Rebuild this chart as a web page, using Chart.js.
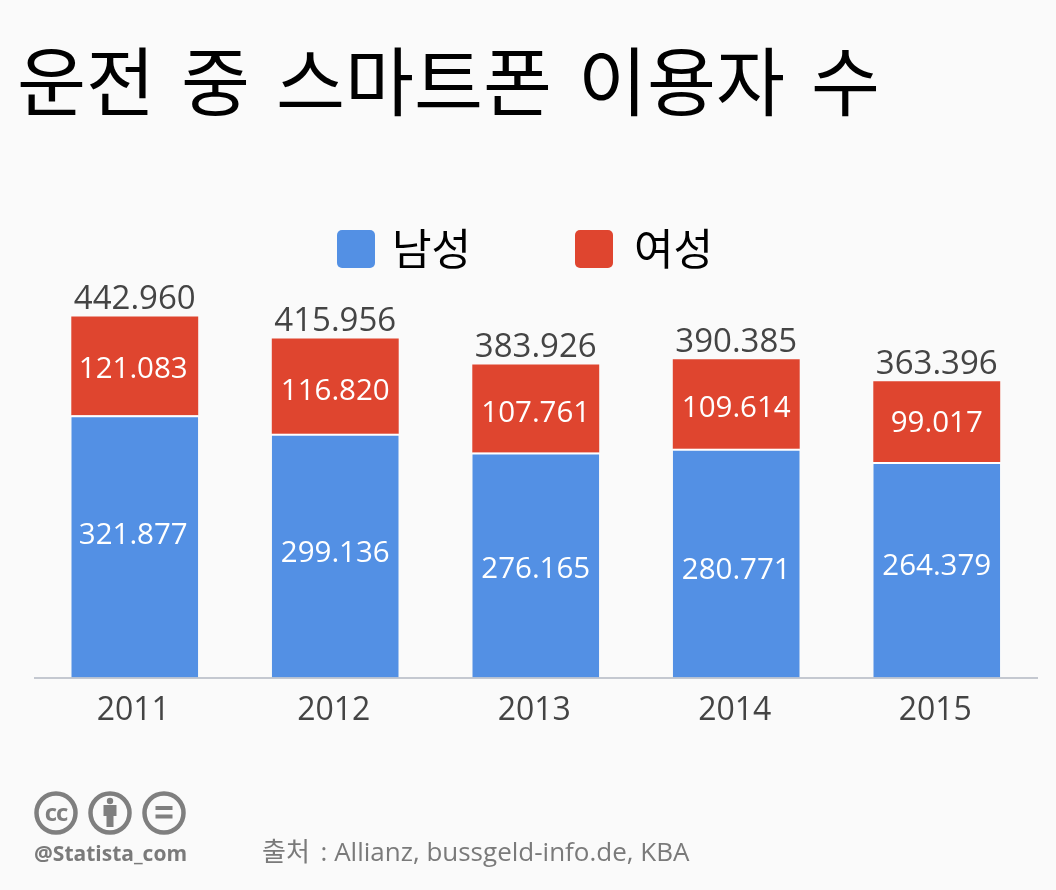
<!DOCTYPE html>
<html lang="ko">
<head>
<meta charset="utf-8">
<title>운전 중 스마트폰 이용자 수</title>
<script src="https://cdn.jsdelivr.net/npm/chart.js@4/dist/chart.umd.min.js"></script>
<style>
  html, body { margin: 0; padding: 0; background: #fafafa; }
  #page { position: relative; width: 1056px; height: 890px; overflow: hidden; font-family: "Noto Sans CJK KR", "Open Sans", sans-serif; }
  #chartBox { position: absolute; left: 0; top: 0; width: 1056px; height: 890px; }
  h1 { position: absolute; left: 17px; top: 28px; margin: 0; font-size: 75px; line-height: 100px; font-weight: 400; color: #000; word-spacing: 5px; white-space: nowrap; }
  #legend { position: absolute; top: 218px; left: 0; width: 1056px; height: 60px; }
  .key { position: absolute; top: 12px; width: 38px; height: 38px; border-radius: 5px; }
  .keyText { position: absolute; top: 0; font-size: 43px; line-height: 56px; color: #000; }
  #icons { position: absolute; left: 33px; top: 791px; }
  #handle { position: absolute; left: 34px; top: 839px; font: 700 21px "Open Sans", sans-serif; color: #7a7a7a; }
  #source { position: absolute; left: 262px; top: 831px; font: 400 26px "Open Sans", "Noto Sans CJK KR", sans-serif; color: #7a7a7a; white-space: nowrap; }
  #source span { margin-right: 4px; }
</style>
</head>
<body>
<div id="page">
  <div id="chartBox"><canvas id="chart"></canvas></div>
  <h1>운전 중 스마트폰 이용자 수</h1>
  <div id="legend"></div>
  <svg id="icons" width="156" height="46" viewBox="0 0 156 46">
    <g fill="none" stroke="#7f7f7f" stroke-width="4.5">
      <circle cx="23" cy="22" r="19.5"/>
      <circle cx="77" cy="22" r="19.5"/>
      <circle cx="131" cy="22" r="19.5"/>
    </g>
    <text x="23" y="30" text-anchor="middle" font-family="Open Sans" font-weight="700" font-size="24" letter-spacing="-1" fill="#7f7f7f">cc</text>
    <g fill="#7f7f7f">
      <circle cx="77" cy="10" r="3.200"/>
      <rect x="70.500" y="14" width="13" height="11"/>
      <rect x="73.500" y="25" width="7" height="11"/>
      <rect x="122.500" y="15" width="17" height="4"/>
      <rect x="122.500" y="23.500" width="17" height="4"/>
    </g>
  </svg>
  <div id="handle">@Statista_com</div>
  <div id="source"><span>출처</span> : Allianz, bussgeld-info.de, KBA</div>
</div>
<script>
const years = ["2011", "2012", "2013", "2014", "2015"];
const men = [321877, 299136, 276165, 280771, 264379];
const women = [121083, 116820, 107761, 109614, 99017];
const totals = [442960, 415956, 383926, 390385, 363396];

const BLUE = "#5390e4";
const RED = "#df452f";

// The labels are not quite centred in their segments in the original
const menLabelShift = [-11, -2, 5, 7, -3];
const womenLabelShift = [4, 5, 5, 5, 2];

function formatNumber(n) {
    return String(n).replace(/\B(?=(\d{3})+$)/g, ".");
}

// Segment and total labels, placed through the chart's own bar elements
const valueLabels = {
    id: "valueLabels",
    afterDatasetsDraw(chart) {
        const c = chart.ctx;
        c.save();
        c.textAlign = "center";
        c.textBaseline = "middle";
        chart.data.datasets.forEach((ds, d) => {
            const shift = d === 0 ? menLabelShift : womenLabelShift;
            chart.getDatasetMeta(d).data.forEach((bar, i) => {
                const mid = (bar.y + bar.base) / 2 + shift[i];
                c.font = '29.5px "Open Sans"';
                c.fillStyle = "#fff";
                c.fillText(formatNumber(ds.data[i]), bar.x - (i === 0 ? 1.5 : 0), mid);
            });
        });
        chart.getDatasetMeta(1).data.forEach((bar, i) => {
            c.font = '33px "Open Sans"';
            c.fillStyle = "#444";
            c.fillText(formatNumber(totals[i]), bar.x, bar.y - 17);
        });
        c.restore();
    }
};

const chart = new Chart(document.getElementById("chart"), {
    type: "bar",
    data: {
        labels: years,
        datasets: [
            { label: "남성", data: men, backgroundColor: BLUE, borderColor: "#fff", borderWidth: { top: 2 }, borderSkipped: false },
            { label: "여성", data: women, backgroundColor: RED }
        ]
    },
    options: {
        responsive: true,
        maintainAspectRatio: false,
        animation: false,
        layout: { padding: { left: 34.5, right: 19, top: 270, bottom: 146 } },
        datasets: { bar: { categoryPercentage: 0.633, barPercentage: 1 } },
        plugins: { legend: { display: false }, title: { display: false }, tooltip: { enabled: false } },
        scales: {
            x: {
                stacked: true,
                grid: { display: false, drawTicks: false },
                border: { color: "#c4c8d0", width: 2 },
                ticks: { color: "#444", font: { family: "Open Sans", size: 32 }, padding: 14, labelOffset: -1.5, maxRotation: 0 }
            },
            y: { stacked: true, display: false, min: 0, max: 500000 }
        }
    },
    plugins: [valueLabels]
});

// Legend built from the dataset names
const legendBox = document.getElementById("legend");
const legendX = [337, 575];
const legendTextX = [392, 634];
chart.data.datasets.forEach((ds, i) => {
    const key = document.createElement("div");
    key.className = "key";
    key.style.left = legendX[i] + "px";
    key.style.background = ds.backgroundColor;
    legendBox.appendChild(key);
    const text = document.createElement("div");
    text.className = "keyText";
    text.style.left = legendTextX[i] + "px";
    text.textContent = ds.label;
    legendBox.appendChild(text);
});
</script>
</body>
</html>
